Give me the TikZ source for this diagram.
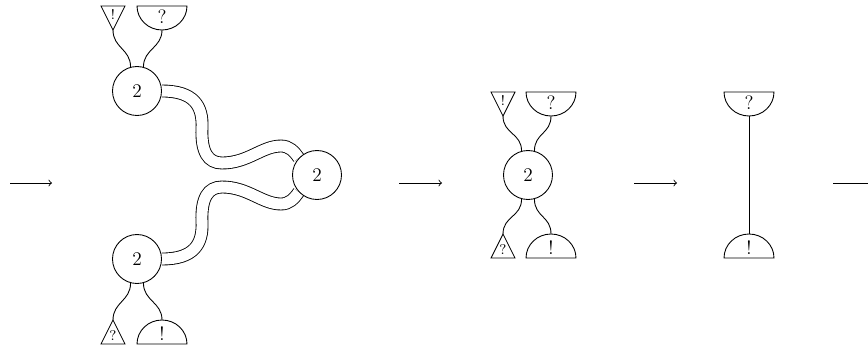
\documentclass[tikz,border=0pt]{standalone}
\usetikzlibrary{backgrounds}

\tikzset{
  gadget/.style={draw, line width=0.5pt, fill=white},
  wire/.style={line width=0.5pt},
  tube/.style={double, line width=0.5pt, double distance=6.3pt},
  cell/.style={circle, draw, line width=0.5pt, fill=white, minimum size=0.98cm, inner sep=0pt,
    font=\fontsize{11}{13}\selectfont},
  reduce/.style={->, line width=0.5pt},
  pics/tridown/.style={code={
    \draw[gadget] (-12,0) -- (12,0) -- (0,24) -- cycle;
    \node[font=\fontsize{8}{9}\selectfont, inner sep=0pt] (-l) at (0,8) {#1};
    \coordinate (-tip) at (0,24);
  }},
  pics/triup/.style={code={
    \draw[gadget] (-12,0) -- (12,0) -- (0,-24) -- cycle;
    \node[font=\fontsize{8}{9}\selectfont, inner sep=0pt] (-l) at (0,-8) {#1};
    \coordinate (-tip) at (0,-24);
  }},
  pics/capdown/.style={code={
    \draw[gadget] (-25,0) arc[start angle=180, end angle=0, x radius=25, y radius=24] -- cycle;
    \node[font=\fontsize{11}{13}\selectfont, inner sep=0pt] (-l) at (0,11) {#1};
    \coordinate (-tip) at (0,24);
  }},
  pics/cupup/.style={code={
    \draw[gadget] (-25,0) arc[start angle=180, end angle=360, x radius=25, y radius=24] -- cycle;
    \node[font=\fontsize{11}{13}\selectfont, inner sep=0pt] (-l) at (0,-10) {#1};
    \coordinate (-tip) at (0,-24);
  }}
}

\begin{document}
\begin{tikzpicture}[x=0.02cm, y=-0.02cm]
  \useasboundingbox (0,0) rectangle (868,345);

  % Flèches de réduction
  \coordinate (r1a) at (10,183);  \coordinate (r1b) at (52,183);
  \coordinate (r2a) at (399,183); \coordinate (r2b) at (442,183);
  \coordinate (r3a) at (634,183); \coordinate (r3b) at (677,183);
  \coordinate (r4a) at (833,183); \coordinate (r4b) at (868,183);
  \draw[reduce] (r1a) -- (r1b);
  \draw[reduce] (r2a) -- (r2b);
  \draw[reduce] (r3a) -- (r3b);
  \draw[wire] (r4a) -- (r4b);

  % Premier terme : trois cellules
  \node[cell] (top2) at (137,91) {2};
  \node[cell] (bot2) at (137,259) {2};
  \node[cell] (right2) at (317,175) {2};
  \pic (d1t) at (113,6) {tridown=!};
  \pic (d1c) at (162,6) {capdown=?};
  \pic (d1u) at (113,344) {triup=?};
  \pic (d1b) at (162,344) {cupup=!};

  % Deuxième terme
  \node[cell] (mid2) at (528,175) {2};
  \pic (d2t) at (503,92) {tridown=!};
  \pic (d2c) at (551,92) {capdown=?};
  \pic (d2u) at (503,258) {triup=?};
  \pic (d2b) at (551,258) {cupup=!};

  % Troisième terme
  \pic (d3c) at (749,92) {capdown=?};
  \pic (d3b) at (749,258) {cupup=!};

  \begin{scope}[on background layer]
    % Fils simples
    \draw[wire] (d1t-tip) .. controls +(0,18) and +(0,-18) .. (top2.105);
    \draw[wire] (d1c-tip) .. controls +(0,18) and +(0,-18) .. (top2.75);
    \draw[wire] (bot2.255) .. controls +(0,18) and +(0,-18) .. (d1u-tip);
    \draw[wire] (bot2.285) .. controls +(0,18) and +(0,-18) .. (d1b-tip);

    \draw[wire] (d2t-tip) .. controls +(0,18) and +(0,-18) .. (mid2.105);
    \draw[wire] (d2c-tip) .. controls +(0,18) and +(0,-18) .. (mid2.75);
    \draw[wire] (mid2.255) .. controls +(0,18) and +(0,-18) .. (d2u-tip);
    \draw[wire] (mid2.285) .. controls +(0,18) and +(0,-18) .. (d2b-tip);

    \draw[wire] (d3c-tip) -- (d3b-tip);

    % Fils doubles vers la cellule de droite
    \draw[tube] (top2.east) .. controls (194,91) and (203,106) .. (202,128)
      .. controls (201,152) and (208,163) .. (222,163)
      .. controls (248,163) and (262,146) .. (281,146)
      .. controls (289,146) and (294,151) .. (right2.137);
    \draw[tube] (bot2.east) .. controls (194,259) and (203,244) .. (202,222)
      .. controls (201,198) and (208,187) .. (222,187)
      .. controls (248,187) and (262,204) .. (281,204)
      .. controls (289,204) and (294,199) .. (right2.223);
  \end{scope}
\end{tikzpicture}
\end{document}
